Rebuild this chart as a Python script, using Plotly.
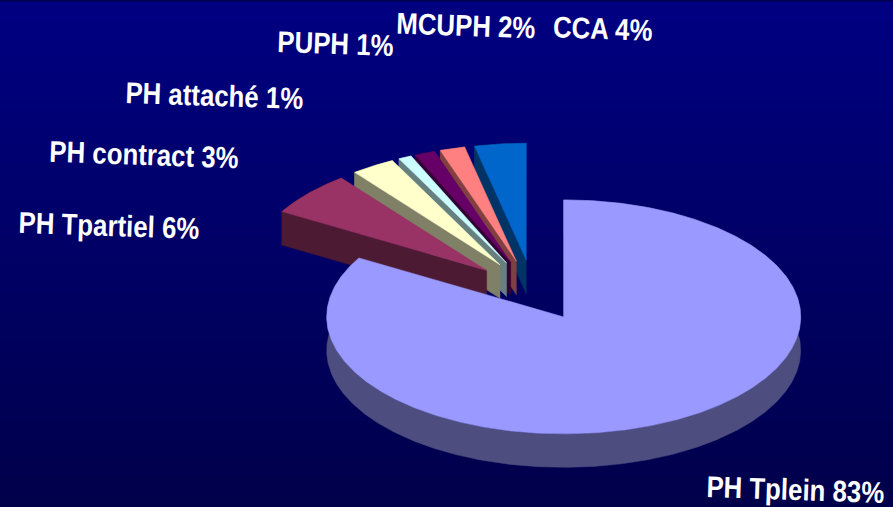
import numpy as np
import plotly.graph_objects as go

names = ["CCA", "MCUPH", "PUPH", "PH attaché", "PH contract", "PH Tpartiel", "PH Tplein"]
values = [3.5, 1.7, 1.4, 0.9, 3.0, 6.1, 83.4]
shown_pct = [4, 2, 1, 1, 3, 6, 83]
top_colors = ["#0066CC", "#FF8080", "#660066", "#CCFFFF", "#FFFFCC", "#993366", "#9999FF"]
wall_colors = ["#003366", "#804040", "#330033", "#668080", "#808066", "#4D1A33", "#4D4D80"]
label_x = [603, 466, 335, 214, 144, 109, 795]
label_y = [28, 25, 43, 95, 154, 225, 489]

W, H = 893, 507
CX, CY = 533.0, 290.5
RX, RY = 237.0, 117.0
EXPLODE = 0.26
DEPTH = 33.5

fig = go.Figure()

grad_y = [0, 120, 250, 380, 507]
grad_z = [[v, v] for v in [0, 0.25, 0.5, 0.75, 1]]
fig.add_trace(go.Heatmap(x=[0, W], y=grad_y, z=grad_z, zsmooth="best", showscale=False,
                         colorscale=[[0, "#000082"], [1, "#00004A"]], hoverinfo="skip"))


def poly(xs, ys, color):
    fig.add_trace(go.Scatter(x=xs, y=ys, mode="lines", fill="toself", fillcolor=color,
                             line=dict(color=color, width=0.5), hoverinfo="skip", showlegend=False))


# Slices run counter-clockwise from 12 o'clock, drawn back to front
end = 0.0
for name, v, top, wall in zip(names, values, top_colors, wall_colors):
    start = end - v * 3.6
    mid = np.radians((start + end) / 2)
    ax = CX + EXPLODE * RX * np.sin(mid)
    ay = CY - EXPLODE * RY * np.cos(mid)
    th = np.radians(np.linspace(start, end, max(6, int(v * 8))))
    ex = ax + RX * np.sin(th)
    ey = ay - RY * np.cos(th)
    # leading radial face
    poly([ax, ex[0], ex[0], ax, ax], [ay, ey[0], ey[0] + DEPTH, ay + DEPTH, ay], wall)
    # outer rim
    poly(np.r_[ex, ex[::-1], ex[0]], np.r_[ey, ey[::-1] + DEPTH, ey[0]], wall)
    # top face
    poly(np.r_[ax, ex, ax], np.r_[ay, ey, ay], top)
    end = start

for name, pct, lx, ly in zip(names, shown_pct, label_x, label_y):
    fig.add_annotation(x=lx, y=ly, text=f"{name} {pct}%", showarrow=False, textangle=2,
                       font=dict(family="Liberation Sans", size=30, color="#FFFFFF", weight="bold"),
                       xanchor="center", yanchor="middle")

fig.add_shape(type="rect", x0=0, x1=W, y0=0, y1=1.5, fillcolor="#00004A", line_width=0)
fig.update_xaxes(range=[0, W], visible=False, fixedrange=True)
fig.update_yaxes(range=[H, 0], visible=False, fixedrange=True)
fig.update_layout(width=W, height=H, margin=dict(l=0, r=0, t=0, b=0), paper_bgcolor="#000080",
                  plot_bgcolor="#000080", showlegend=False)

# No page margin; labels condensed as in the reference
post = """
document.body.style.margin = '0';
document.body.style.overflow = 'hidden';
document.querySelectorAll('.annotation-text').forEach(function (t) {
  var n = t.getComputedTextLength();
  t.setAttribute('lengthAdjust', 'spacingAndGlyphs');
  t.setAttribute('textLength', n * 0.86);
});
"""
fig.write_html("out.html", config=dict(displayModeBar=False), post_script=post)
